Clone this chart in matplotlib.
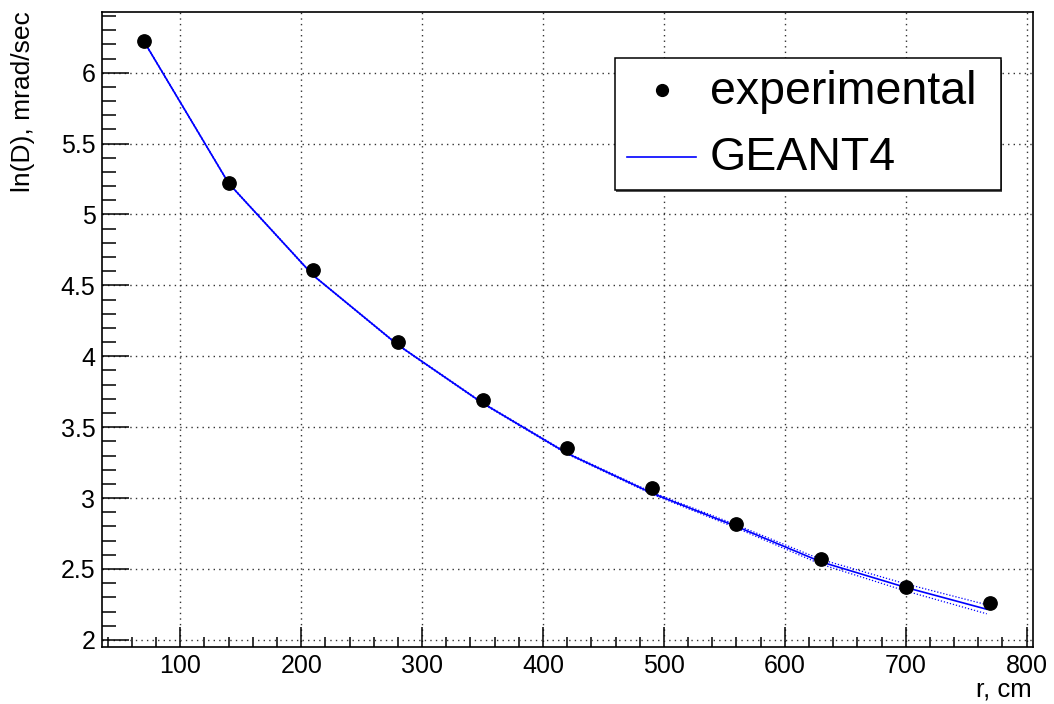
import matplotlib
matplotlib.use("Agg")
import matplotlib.pyplot as plt
import numpy as np
from matplotlib import ticker
from matplotlib.lines import Line2D
from matplotlib.patches import Rectangle

plt.rcParams["font.family"] = ["Liberation Sans", "DejaVu Sans"]

# Measured dose rate, ln(D) in mrad/sec
r_exp = [70, 140, 210, 280, 350, 420, 490, 560, 630, 700, 770]
lnd_exp = [6.22, 5.22, 4.61, 4.10, 3.69, 3.35, 3.07, 2.82, 2.57, 2.37, 2.26]

# GEANT4 simulation with its statistical band
r_sim = [70, 140, 210, 280, 350, 420, 490, 560, 630, 700, 767]
lnd_sim = [6.22, 5.22, 4.57, 4.08, 3.67, 3.315, 3.035, 2.80, 2.55, 2.37, 2.216]
lnd_sim_err = [0.003, 0.003, 0.003, 0.003, 0.004, 0.005, 0.007, 0.011, 0.017, 0.025, 0.032]

W, H = 1054, 704
fig = plt.figure(figsize=(W / 100, H / 100), dpi=100)
left, right, bottom, top = 101.7, 1032.7, 646.7, 12.0
ax = fig.add_axes([left / W, (H - bottom) / H, (right - left) / W, (bottom - top) / H])

sim = np.array(lnd_sim)
err = np.array(lnd_sim_err)
band_style = dict(color="blue", linewidth=0.9, linestyle=(0, (1, 1.5)), zorder=3)
ax.plot(r_sim, sim + err, **band_style)
ax.plot(r_sim, sim - err, **band_style)
ax.plot(r_sim, sim, color="blue", linewidth=1.2, zorder=4)
ax.plot(r_exp, lnd_exp, linestyle="none", marker="o", markersize=9.6,
        color="black", zorder=5)

ax.set_xlim(35, 805)
ax.set_ylim(1.952, 6.428)

ax.xaxis.set_major_locator(ticker.MultipleLocator(100))
ax.xaxis.set_minor_locator(ticker.MultipleLocator(20))
ax.yaxis.set_major_locator(ticker.MultipleLocator(0.5))
ax.yaxis.set_minor_locator(ticker.MultipleLocator(0.1))
ax.yaxis.set_major_formatter(ticker.FormatStrFormatter("%g"))

ax.tick_params(axis="both", which="both", direction="in", width=1.1,
               labelsize=18, top=False, right=False)
ax.tick_params(axis="x", which="major", length=14.5, pad=5.0)
ax.tick_params(axis="x", which="minor", length=7.2)
ax.tick_params(axis="y", which="major", length=19.5, pad=4.5)
ax.tick_params(axis="y", which="minor", length=10)

ax.grid(True, which="major", color="#333333", linestyle=(0, (1, 3)),
        linewidth=1.0, zorder=1)
ax.set_axisbelow(True)
for spine in ax.spines.values():
    spine.set_linewidth(1.2)

fig.text(1032 / W, (H - 697) / H, "r, cm", ha="right", va="baseline",
         fontsize=18.5)
fig.text(23.5 / W, (H - 11) / H, "ln(D), mrad/sec", rotation=90,
         ha="center", va="top", fontsize=19)

# Legend box with a thin drop shadow, in figure pixels
lx0, lx1, ly0, ly1 = 614.7, 1000.7, 58.0, 190.0
fig.patches.append(Rectangle(((lx0 + 1.5) / W, (H - ly1 - 1.5) / H),
                             (lx1 - lx0) / W, (ly1 - ly0) / H,
                             transform=fig.transFigure, facecolor="#555555",
                             edgecolor="none", zorder=6))
fig.patches.append(Rectangle((lx0 / W, (H - ly1) / H),
                             (lx1 - lx0) / W, (ly1 - ly0) / H,
                             transform=fig.transFigure, facecolor="white",
                             edgecolor="black", linewidth=1.1, zorder=7))
fig.lines.append(Line2D([662 / W], [(H - 90) / H], transform=fig.transFigure,
                        marker="o", markersize=8.5, color="black",
                        linestyle="none", zorder=8))
fig.lines.append(Line2D([627 / W, 696 / W], [(H - 157) / H, (H - 157) / H],
                        transform=fig.transFigure, color="blue",
                        linewidth=1.2, zorder=8))
fig.text(710 / W, (H - 104) / H, "experimental", ha="left", va="baseline",
         fontsize=33.5, zorder=9)
fig.text(710 / W, (H - 170) / H, "GEANT4", ha="left", va="baseline",
         fontsize=33.5, zorder=9)

fig.savefig("out.png", dpi=100)
